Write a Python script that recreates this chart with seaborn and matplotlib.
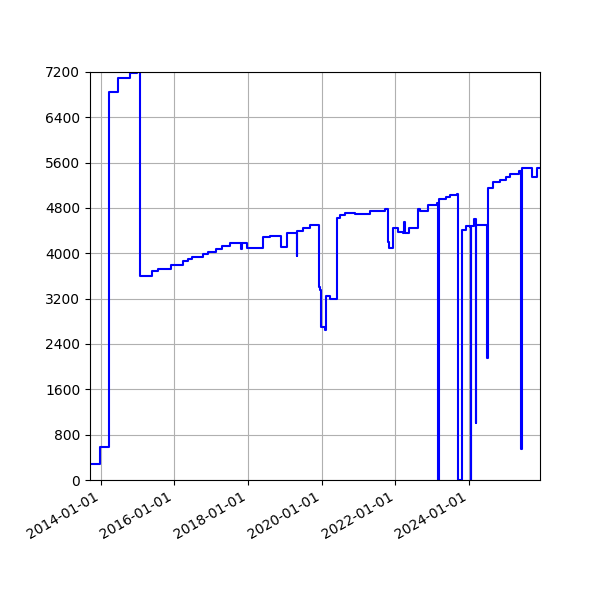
import matplotlib
matplotlib.use("Agg")
import matplotlib.pyplot as plt
import matplotlib.dates as mdates
import seaborn as sns
import pandas as pd

dates = ["2013-09-15","2013-12-20","2014-03-20","2014-06-18","2014-10-15","2014-12-22","2015-01-22",
 "2015-05-20","2015-07-18","2015-11-25","2016-03-25","2016-05-13","2016-06-22","2016-10-08","2016-11-27",
 "2017-02-15","2017-04-15","2017-07-03","2017-10-20","2017-10-27","2017-12-20","2018-01-18","2018-04-27",
 "2018-05-26","2018-08-03","2018-11-20","2019-01-20","2019-04-30","2019-05-04","2019-06-28","2019-09-05",
 "2019-12-03","2019-12-10","2019-12-24","2020-02-03","2020-02-10","2020-03-22","2020-05-28","2020-06-27",
 "2020-08-17","2020-11-25","2021-04-22","2021-09-20","2021-10-20","2021-10-28","2021-12-06","2022-01-25",
 "2022-03-18","2022-03-25","2022-04-01","2022-05-15","2022-08-12","2022-09-01","2022-11-20","2023-02-17",
 "2023-02-28","2023-03-05","2023-05-17","2023-06-25","2023-09-02","2023-09-12","2023-10-22","2023-12-01",
 "2024-01-10","2024-01-20","2024-01-25","2024-02-20","2024-03-10","2024-03-15","2024-06-28","2024-07-12",
 "2024-08-25","2024-11-03","2025-01-05","2025-02-10","2025-05-10","2025-05-30","2025-06-05","2025-09-15",
 "2025-09-20","2025-11-05","2025-12-05"]
values = [290,580,6850,7100,7180,7200,3600,
 3680,3720,3800,3860,3900,3940,3980,4020,
 4080,4130,4180,4080,4180,4100,4100,4100,
 4280,4300,4120,4350,3960,4400,4450,4500,
 3400,3350,2700,2650,3250,3200,4620,4680,
 4720,4700,4750,4790,4200,4100,4450,4380,
 4350,4560,4350,4450,4780,4750,4850,4880,
 0,4950,5000,5030,5050,0,4420,4480,
 4460,0,4480,4600,1000,4500,2150,5150,
 5250,5300,5350,5400,5450,550,5500,5450,
 5350,5500,5500]

df = pd.DataFrame({"date": pd.to_datetime(dates), "value": values})

fig = plt.figure(figsize=(6, 6), dpi=100)
ax = fig.add_axes([0.15, 0.2, 0.75, 0.68])
sns.lineplot(data=df, x="date", y="value", ax=ax, color="blue", linewidth=1.5,
             drawstyle="steps-post", estimator=None)
ax.set_xlim(pd.Timestamp("2013-09-15"), pd.Timestamp("2025-12-05"))
ax.set_ylim(0, 7200)
ax.set_yticks(range(0, 7201, 800))
ax.xaxis.set_major_locator(mdates.YearLocator(2, month=1, day=1))
ax.xaxis.set_major_formatter(mdates.DateFormatter("%Y-%m-%d"))
ax.grid(True, color="#b0b0b0", linewidth=0.8)
ax.set_xlabel("")
ax.set_ylabel("")
for lbl in ax.get_xticklabels():
    lbl.set_rotation(30)
    lbl.set_ha("right")
fig.savefig("out.png", dpi=100)
